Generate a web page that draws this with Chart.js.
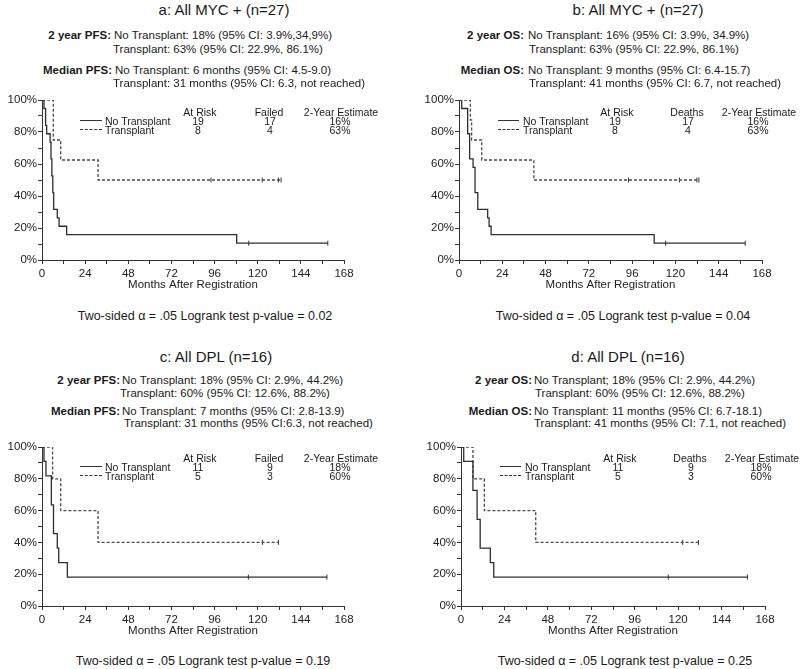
<!DOCTYPE html>
<html>
<head>
<meta charset="utf-8">
<script src="https://cdn.jsdelivr.net/npm/chart.js@4.4.0/dist/chart.umd.min.js"></script>
<style>
  body { margin: 0; width: 800px; height: 669px; background: #fff; position: relative; overflow: hidden;
         font-family: "Liberation Sans", Arial, sans-serif; color: #1a1a1a; }
  canvas { position: absolute; }
  .t { position: absolute; white-space: nowrap; line-height: 1; }
  .ln { position: absolute; height: 0; }
</style>
</head>
<body>
<canvas id="ca"></canvas>
<canvas id="cb"></canvas>
<canvas id="cc"></canvas>
<canvas id="cd"></canvas>
<script>
// --- data (months, survival %) ---
const xTicks = [0, 24, 48, 72, 96, 120, 144, 168];
const yTicks = [0, 20, 40, 60, 80, 100];

// a: PFS, all MYC+
const aNoneT = [0, 1.1, 2, 2.6, 4.5, 5, 5.5, 6, 6.5, 8.5, 9.5, 13.7, 108.3, 159];
const aNoneS = [100, 94.7, 84.2, 78.9, 73.7, 63.2, 52.6, 42.1, 31.6, 26.3, 21.1, 15.8, 10.5, 10.5];
const aNoneCens = [115, 159];
const aTxT = [0, 6.3, 10.4, 31.2, 133];
const aTxS = [100, 75, 62.5, 50, 50];
const aTxCens = [94, 122.5, 131.5, 133];

// b: OS, all MYC+
const bNoneT = [0, 1.5, 4.8, 5.9, 7.8, 8.9, 10.4, 15.9, 16.7, 17.8, 108.2, 158.7];
const bNoneS = [100, 94.7, 78.9, 63.2, 57.9, 42.1, 31.6, 26.3, 21.1, 15.8, 10.5, 10.5];
const bNoneCens = [114.6, 158.7];
const bTxT = [0, 6.3, 7, 12.6, 41.5, 133];
const bTxS = [100, 87.5, 75, 62.5, 50, 50];
const bTxCens = [94, 122.2, 131.9, 133];

// c: PFS, all DPL
const cNoneT = [0, 1.1, 2.2, 5.2, 6.4, 8.5, 9.3, 14.1, 158.5];
const cNoneS = [100, 90.9, 81.8, 63.6, 45.5, 36.4, 27.3, 18.2, 18.2];
const cNoneCens = [114.8, 158.5];
const cTxT = [0, 5.9, 10.4, 31.2, 131.5];
const cTxS = [100, 80, 60, 40, 40];
const cTxCens = [122.6, 131.5];

// d: OS, all DPL
const dNoneT = [0, 1.5, 6.6, 8.9, 10.6, 16.2, 18.1, 158.3];
const dNoneS = [100, 90.9, 72.7, 54.5, 36.4, 27.3, 18.2, 18.2];
const dNoneCens = [114.6, 158.3];
const dTxT = [0, 6.6, 12.9, 41.3, 131.2];
const dTxS = [100, 80, 60, 40, 40];
const dTxCens = [122.5, 131.2];

Chart.defaults.font.family = '"Liberation Sans", Arial, sans-serif';

function survAt(ts, ss, t) {
    let v = ss[0];
    for (let i = 0; i < ts.length; i++) if (ts[i] <= t) v = ss[i];
    return v;
}

function makePanel(id, box, none, tx) {
    const canvas = document.getElementById(id);
    const cy = box.T - 10;
    canvas.width = 400;
    canvas.height = box.B - cy + 40;
    canvas.style.left = box.cx + 'px';
    canvas.style.top = cy + 'px';

    const curve = (c, dash) => ({
        data: c.t.map((t, i) => ({ x: t, y: c.s[i] })),
        stepped: true, borderColor: dash ? '#4a4a4a' : '#2e2e2e', borderWidth: 1.3,
        borderDash: dash ? [3, 2] : [], pointRadius: 0, fill: false
    });
    const marks = (c) => ({
        data: c.cens.map(t => ({ x: t, y: survAt(c.t, c.s, t) })),
        showLine: false, pointStyle: 'line', pointRotation: 90, pointRadius: 2.5,
        pointBorderColor: '#333', pointBorderWidth: 1
    });

    new Chart(canvas, {
        type: 'line',
        data: { datasets: [curve(none, false), curve(tx, true), marks(none), marks(tx)] },
        options: {
            responsive: false, animation: false, events: [],
            layout: { padding: { top: 10, left: 0, bottom: 0, right: box.cx + 400 - box.R } },
            plugins: { legend: { display: false }, tooltip: { enabled: false } },
            scales: {
                x: {
                    type: 'linear', min: 0, max: 168,
                    afterFit: s => { s.height = 40; },
                    ticks: { stepSize: 12, autoSkip: false, maxRotation: 0, padding: 3, color: '#222',
                             font: { size: 11.5 },
                             callback: v => xTicks.includes(v) ? String(v) : '' },
                    grid: { drawOnChartArea: false, tickLength: 4, color: '#333' },
                    border: { color: '#333', width: 1 },
                    title: { display: true, text: 'Months After Registration', color: '#222',
                             font: { size: 11.5 }, padding: { top: 0, bottom: 8 } }
                },
                y: {
                    min: 0, max: 100,
                    afterFit: s => { s.width = box.L - box.cx; },
                    ticks: { stepSize: 10, autoSkip: false, padding: 1, color: '#222', font: { size: 11.5 },
                             callback: v => yTicks.includes(v) ? v + '%' : '' },
                    grid: { drawOnChartArea: false, tickLength: 4, color: '#333' },
                    border: { color: '#333', width: 1 }
                }
            }
        }
    });
}

makePanel('ca', { cx: 0, L: 42, R: 344, T: 100, B: 260.7 },
    { t: aNoneT, s: aNoneS, cens: aNoneCens }, { t: aTxT, s: aTxS, cens: aTxCens });
makePanel('cb', { cx: 400, L: 459, R: 762, T: 100, B: 260.7 },
    { t: bNoneT, s: bNoneS, cens: bNoneCens }, { t: bTxT, s: bTxS, cens: bTxCens });
makePanel('cc', { cx: 0, L: 42, R: 344, T: 447, B: 606.5 },
    { t: cNoneT, s: cNoneS, cens: cNoneCens }, { t: cTxT, s: cTxS, cens: cTxCens });
makePanel('cd', { cx: 400, L: 461, R: 765, T: 447, B: 606.5 },
    { t: dNoneT, s: dNoneS, cens: dNoneCens }, { t: dTxT, s: dTxS, cens: dTxCens });

// --- text ---
function put(x, y, str, size, align, bold) {
    const d = document.createElement('div');
    d.className = 't';
    d.textContent = str;
    d.style.left = x + 'px';
    d.style.top = y + 'px';
    d.style.fontSize = size + 'px';
    if (bold) d.style.fontWeight = 'bold';
    const tx = align === 'right' ? '-100%' : align === 'center' ? '-50%' : '0';
    d.style.transform = 'translate(' + tx + ', -50%)';
    document.body.appendChild(d);
}
function sample(x1, x2, y, dashed) {
    const d = document.createElement('div');
    d.className = 'ln';
    d.style.left = x1 + 'px';
    d.style.top = y + 'px';
    d.style.width = (x2 - x1) + 'px';
    d.style.borderTop = '1px ' + (dashed ? 'dashed' : 'solid') + ' #333';
    document.body.appendChild(d);
}
function legend(p) {
    const fs = 10.5;
    put(p.risk, p.y0, 'At Risk', fs, 'center');
    put(p.ev, p.y0, p.evName, fs, 'center');
    put(p.est, p.y0, '2-Year Estimate', fs, 'center');
    sample(p.lx1, p.lx2, p.y1 - 1, false);
    sample(p.lx1, p.lx2, p.y2 - 1, true);
    put(p.nx, p.y1, 'No Transplant', fs, 'left');
    put(p.nx, p.y2, 'Transplant', fs, 'left');
    put(p.risk - 2, p.y1, p.rows[0][0], fs, 'center');
    put(p.risk - 2, p.y2, p.rows[1][0], fs, 'center');
    put(p.ev + 1, p.y1, p.rows[0][1], fs, 'center');
    put(p.ev + 1, p.y2, p.rows[1][1], fs, 'center');
    put(p.est - 1, p.y1, p.rows[0][2], fs, 'center');
    put(p.est - 1, p.y2, p.rows[1][2], fs, 'center');
}

const fsS = 11.5;

// panel a
put(224, 9, 'a: All MYC + (n=27)', 15, 'center');
put(111, 36, '2 year PFS:', fsS, 'right', true);
put(114, 36, 'No Transplant: 18% (95% CI: 3.9%,34,9%)', fsS, 'left');
put(113, 50, 'Transplant: 63% (95% CI: 22.9%, 86.1%)', fsS, 'left');
put(112, 71, 'Median PFS:', fsS, 'right', true);
put(115, 71, 'No Transplant: 6 months (95% CI: 4.5-9.0)', fsS, 'left');
put(113, 84, 'Transplant: 31 months (95% CI: 6.3, not reached)', fsS, 'left');
legend({ y0: 112, y1: 121, y2: 130, lx1: 80, lx2: 102, nx: 105, risk: 200, ev: 269, est: 341,
         evName: 'Failed', rows: [['19', '17', '16%'], ['8', '4', '63%']] });
put(205, 316, 'Two-sided \u03b1 = .05 Logrank test p-value = 0.02', 12.5, 'center');

// panel b
put(638, 9, 'b: All MYC + (n=27)', 15, 'center');
put(524, 36, '2 year OS:', fsS, 'right', true);
put(528, 36, 'No Transplant: 16% (95% CI: 3.9%, 34.9%)', fsS, 'left');
put(529, 50, 'Transplant: 63% (95% CI: 22.9%, 86.1%)', fsS, 'left');
put(524, 71, 'Median OS:', fsS, 'right', true);
put(528, 71, 'No Transplant: 9 months (95% CI: 6.4-15.7)', fsS, 'left');
put(529, 84, 'Transplant: 41 months (95% CI: 6.7, not reached)', fsS, 'left');
legend({ y0: 112, y1: 121, y2: 130, lx1: 498, lx2: 519, nx: 523, risk: 617, ev: 687, est: 759,
         evName: 'Deaths', rows: [['19', '17', '16%'], ['8', '4', '63%']] });
put(623, 316, 'Two-sided \u03b1 = .05 Logrank test p-value = 0.04', 12.5, 'center');

// panel c
put(216, 356, 'c: All DPL (n=16)', 15, 'center');
put(120, 381, '2 year PFS:', fsS, 'right', true);
put(122, 381, 'No Transplant: 18% (95% CI: 2.9%, 44.2%)', fsS, 'left');
put(120, 394, 'Transplant: 60% (95% CI: 12.6%, 88.2%)', fsS, 'left');
put(120, 412, 'Median PFS:', fsS, 'right', true);
put(122, 412, 'No Transplant: 7 months (95% CI: 2.8-13.9)', fsS, 'left');
put(124, 424, 'Transplant: 31 months (95% CI:6.3, not reached)', fsS, 'left');
legend({ y0: 458, y1: 467, y2: 476, lx1: 80, lx2: 102, nx: 105, risk: 200, ev: 269, est: 341,
         evName: 'Failed', rows: [['11', '9', '18%'], ['5', '3', '60%']] });
put(203, 661, 'Two-sided \u03b1 = .05 Logrank test p-value = 0.19', 12.5, 'center');

// panel d
put(628, 356, 'd: All DPL (n=16)', 15, 'center');
put(532, 381, '2 year OS:', fsS, 'right', true);
put(534, 381, 'No Transplant; 18% (95% CI: 2.9%, 44.2%)', fsS, 'left');
put(535, 394, 'Transplant: 60% (95% CI: 12.6%, 88.2%)', fsS, 'left');
put(532, 412, 'Median OS:', fsS, 'right', true);
put(534, 412, 'No Transplant: 11 months (95% CI: 6.7-18.1)', fsS, 'left');
put(534, 424, 'Transplant: 41 months (95% CI: 7.1, not reached)', fsS, 'left');
legend({ y0: 458, y1: 467, y2: 476, lx1: 500, lx2: 521, nx: 525, risk: 620, ev: 690, est: 762,
         evName: 'Deaths', rows: [['11', '9', '18%'], ['5', '3', '60%']] });
put(625, 661, 'Two-sided \u03b1 = .05 Logrank test p-value = 0.25', 12.5, 'center');
</script>
</body>
</html>
